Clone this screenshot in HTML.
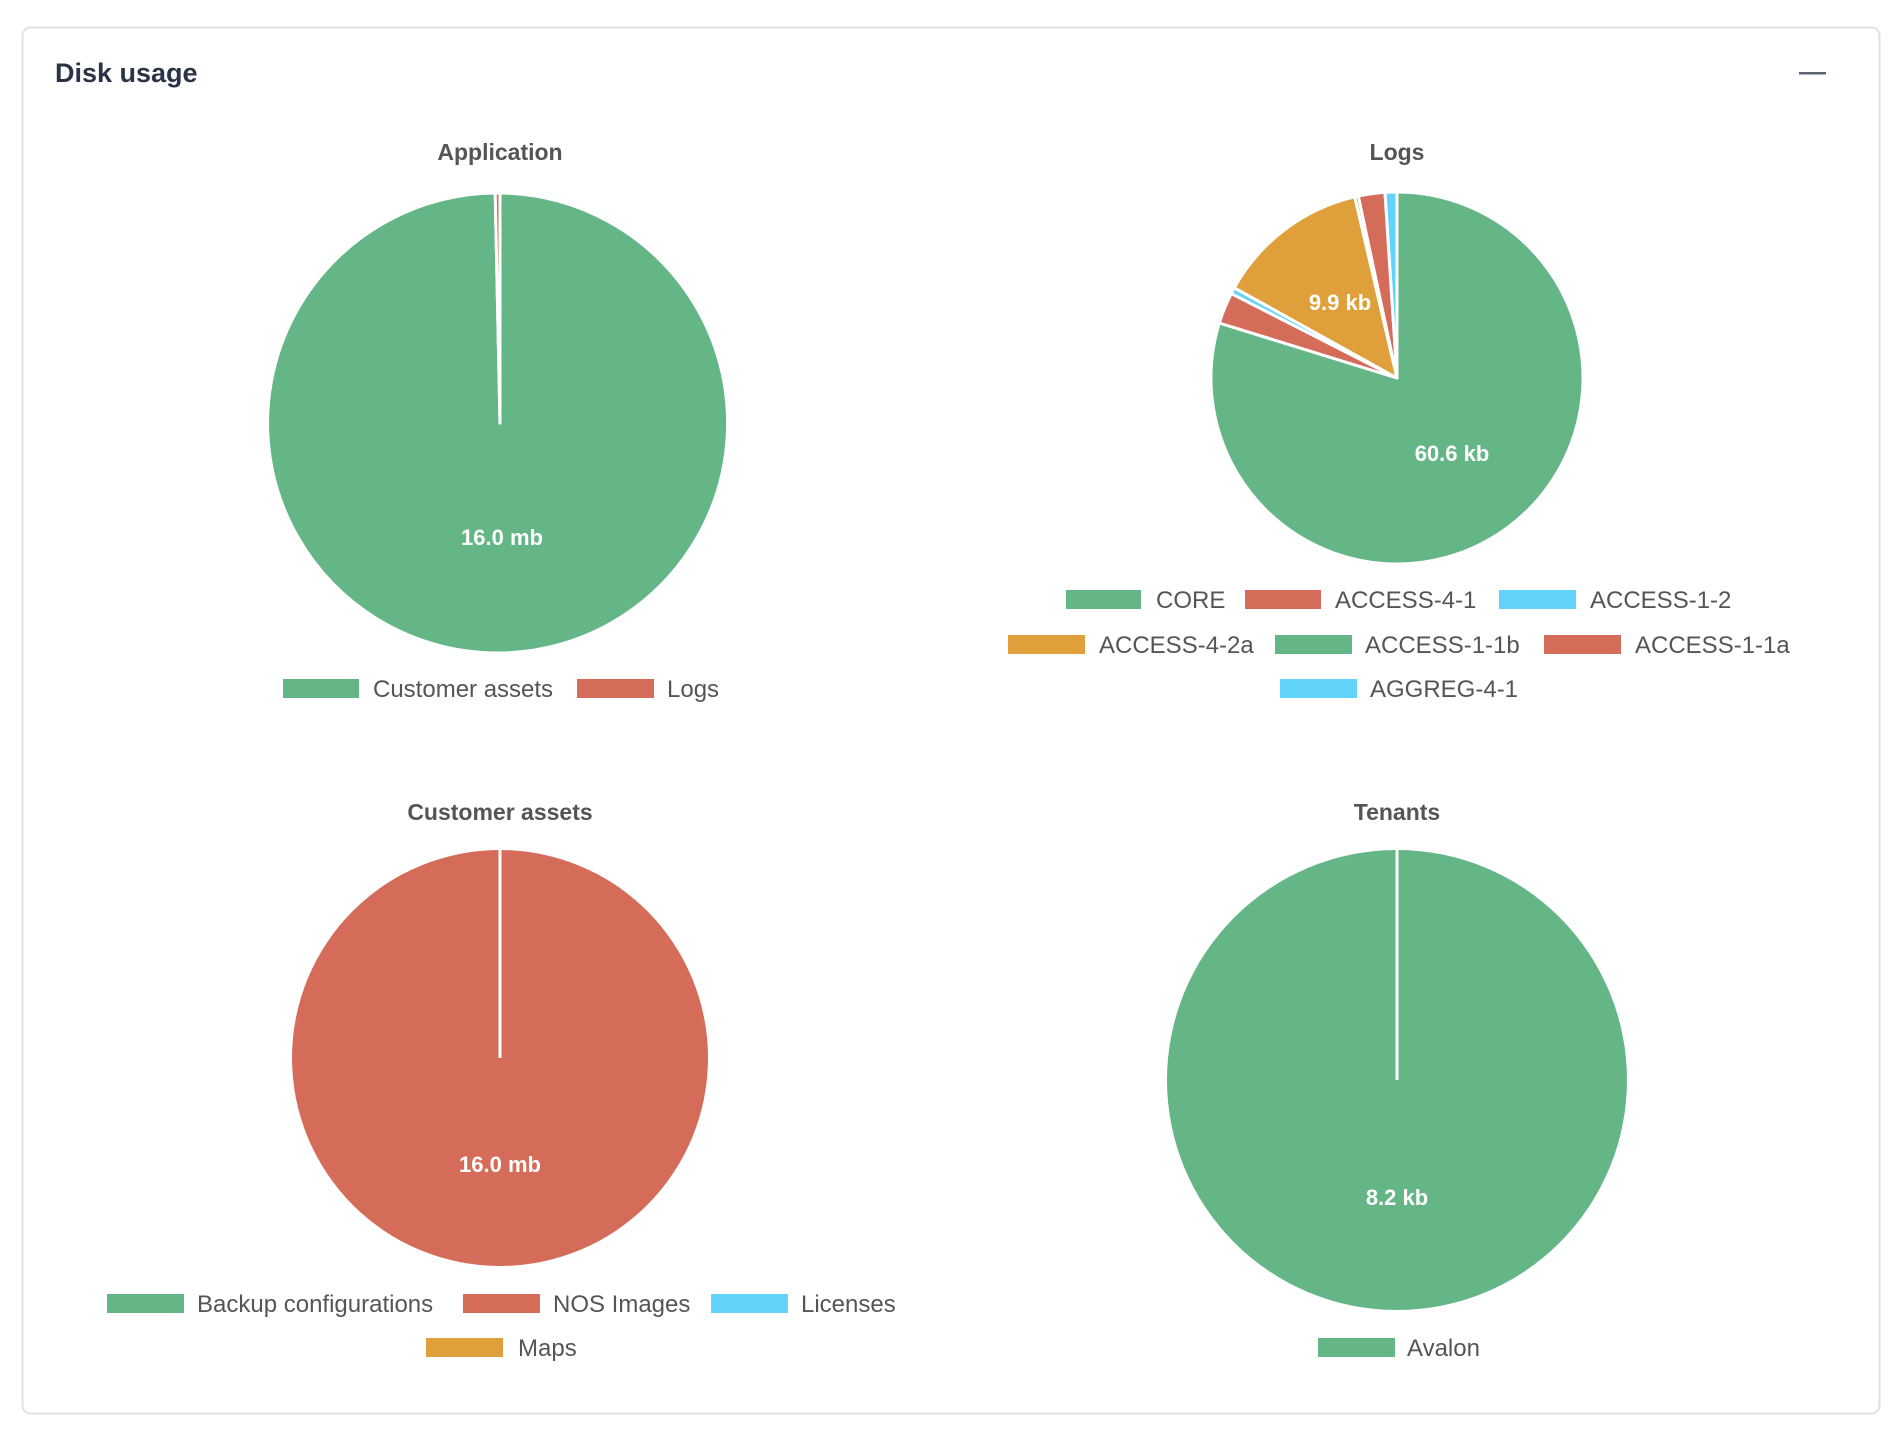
<!DOCTYPE html>
<html><head><meta charset="utf-8"><style>
html,body{margin:0;padding:0;background:#fff;}
body{width:1900px;height:1434px;overflow:hidden;font-family:"Liberation Sans",Arial,sans-serif;}
</style></head><body>
<svg width="1900" height="1434" viewBox="0 0 1900 1434" xmlns="http://www.w3.org/2000/svg" font-family="Liberation Sans, Arial, sans-serif">
<rect x="22.5" y="27.5" width="1857" height="1386" rx="8" fill="#fff" stroke="#dfe1e6" stroke-width="2"/>
<text x="55" y="82" font-size="27" font-weight="bold" fill="#2a3347">Disk usage</text>
<rect x="1799" y="72" width="27" height="2.5" fill="#5a6372"/>

<g font-size="23" font-weight="bold" fill="#555" text-anchor="middle">
<text x="500" y="160">Application</text>
<text x="1397" y="160">Logs</text>
<text x="500" y="820">Customer assets</text>
<text x="1397" y="820">Tenants</text>
</g>

<!-- Application -->
<g stroke="#fff" stroke-width="3" stroke-linejoin="round">
<path d="M500,423 L500,193 A230,230 0 1 1 495.2,193 Z" fill="#64b687"/>
<path d="M500,423 L495.2,193 A230,230 0 0 1 500,193 Z" fill="#d46c59"/>
</g>
<!-- Logs -->
<g stroke="#fff" stroke-width="3" stroke-linejoin="round">
<path d="M1397,378 L1397,192 A186,186 0 1 1 1219.3,323 Z" fill="#64b687"/>
<path d="M1397,378 L1219.3,323 A186,186 0 0 1 1231.3,293.6 Z" fill="#d46c59"/>
<path d="M1397,378 L1231.3,293.6 A186,186 0 0 1 1234.3,287.8 Z" fill="#62d4fb"/>
<path d="M1397,378 L1234.3,287.8 A186,186 0 0 1 1354.8,196.8 Z" fill="#dfa03c"/>
<path d="M1397,378 L1354.8,196.8 A186,186 0 0 1 1358.3,196.1 Z" fill="#64b687"/>
<path d="M1397,378 L1358.3,196.1 A186,186 0 0 1 1385,192.4 Z" fill="#d46c59"/>
<path d="M1397,378 L1385,192.4 A186,186 0 0 1 1397,192 Z" fill="#62d4fb"/>
</g>
<!-- Customer assets -->
<circle cx="500" cy="1058" r="208" fill="#d46c59"/>
<line x1="500" y1="850" x2="500" y2="1058" stroke="#fff" stroke-width="3"/>
<!-- Tenants -->
<circle cx="1397" cy="1080" r="230" fill="#64b687"/>
<line x1="1397" y1="850" x2="1397" y2="1080" stroke="#fff" stroke-width="3"/>

<g font-size="22" font-weight="bold" fill="#fff" text-anchor="middle">
<text x="502" y="545">16.0 mb</text>
<text x="1452" y="461">60.6 kb</text>
<text x="1340" y="310">9.9 kb</text>
<text x="500" y="1172">16.0 mb</text>
<text x="1397" y="1205">8.2 kb</text>
</g>

<g font-size="24" fill="#555">
<rect x="283" y="679" width="76" height="19" fill="#64b687"/><text x="373" y="697">Customer assets</text>
<rect x="577" y="679" width="77" height="19" fill="#d46c59"/><text x="667" y="697">Logs</text>

<rect x="1066" y="590" width="75" height="19" fill="#64b687"/><text x="1156" y="608">CORE</text>
<rect x="1245" y="590" width="76" height="19" fill="#d46c59"/><text x="1335" y="608">ACCESS-4-1</text>
<rect x="1499" y="590" width="77" height="19" fill="#62d4fb"/><text x="1590" y="608">ACCESS-1-2</text>
<rect x="1008" y="635" width="77" height="19" fill="#dfa03c"/><text x="1099" y="653">ACCESS-4-2a</text>
<rect x="1275" y="635" width="77" height="19" fill="#64b687"/><text x="1365" y="653">ACCESS-1-1b</text>
<rect x="1544" y="635" width="77" height="19" fill="#d46c59"/><text x="1635" y="653">ACCESS-1-1a</text>
<rect x="1280" y="679" width="77" height="19" fill="#62d4fb"/><text x="1370" y="697">AGGREG-4-1</text>

<rect x="107" y="1294" width="77" height="19" fill="#64b687"/><text x="197" y="1312">Backup configurations</text>
<rect x="463" y="1294" width="77" height="19" fill="#d46c59"/><text x="553" y="1312">NOS Images</text>
<rect x="711" y="1294" width="77" height="19" fill="#62d4fb"/><text x="801" y="1312">Licenses</text>
<rect x="426" y="1338" width="77" height="19" fill="#dfa03c"/><text x="518" y="1356">Maps</text>

<rect x="1318" y="1338" width="77" height="19" fill="#64b687"/><text x="1407" y="1356">Avalon</text>
</g>
</svg>
</body></html>
